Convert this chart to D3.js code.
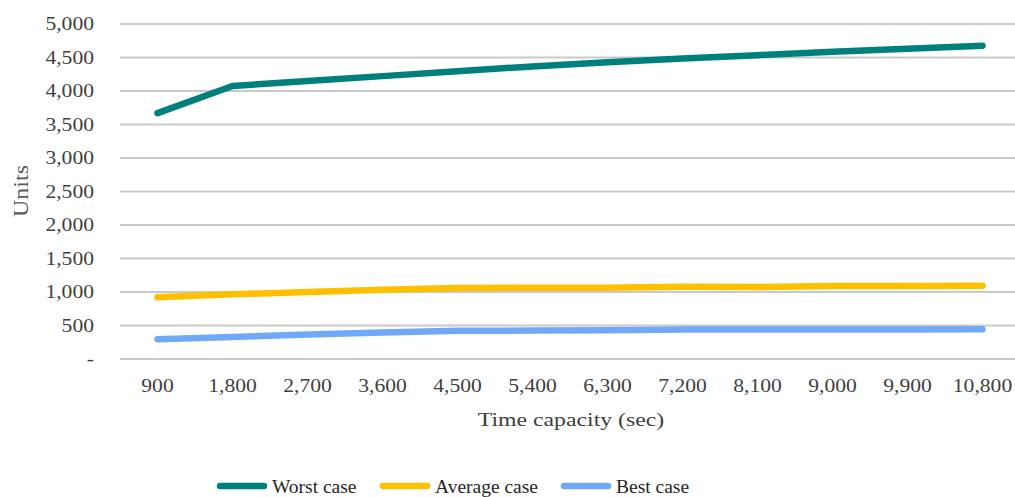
<!DOCTYPE html>
<html>
<head>
<meta charset="utf-8">
<script src="https://cdn.jsdelivr.net/npm/d3@7/dist/d3.min.js"></script>
<style>
  html, body { margin: 0; padding: 0; background: #fff; }
  svg { display: block; }
  text { font-family: "Liberation Serif", "Times New Roman", serif; }
</style>
</head>
<body>
<svg id="chart" width="1015" height="497"></svg>
<script>
// Time capacity categories (seconds)
const categories = ["900", "1,800", "2,700", "3,600", "4,500", "5,400", "6,300", "7,200", "8,100", "9,000", "9,900", "10,800"];

// Units per scenario
const worstCase   = [3670, 4075, 4150, 4222, 4295, 4367, 4430, 4485, 4535, 4585, 4630, 4676];
const averageCase = [920, 965, 1000, 1035, 1060, 1065, 1065, 1080, 1075, 1090, 1090, 1095];
const bestCase    = [295, 330, 365, 395, 420, 425, 430, 440, 440, 440, 442, 445];

const yTicks = [0, 500, 1000, 1500, 2000, 2500, 3000, 3500, 4000, 4500, 5000];
const seriesNames = ["Worst case", "Average case", "Best case"];
const seriesColors = ["#00807c", "#ffc000", "#70a9f8"];

const series = [worstCase, averageCase, bestCase].map((values, i) => ({
  name: seriesNames[i], color: seriesColors[i], values
}));

const svg = d3.select("#chart");
const STRETCH = 1.2; // horizontal text widening for axis labels

const x = d3.scaleBand().domain(categories).range([120, 1020]);
const y = d3.scaleLinear().domain([0, 5000]).range([359, 24]);
const cx = c => x(c) + x.bandwidth() / 2;

// Horizontal gridlines
svg.append("g")
  .selectAll("line")
  .data(yTicks)
  .join("line")
  .attr("x1", 120).attr("x2", 1020)
  .attr("y1", d => y(d)).attr("y2", d => y(d))
  .attr("stroke", "#c9c9c9")
  .attr("stroke-width", 2);

// Y axis tick labels (zero drawn as a dash)
const fmt = d3.format(",");
const yAxis = d3.axisLeft(y).tickValues(yTicks).tickSize(0).tickPadding(0)
  .tickFormat(d => d === 0 ? "-" : fmt(d));
const yg = svg.append("g").attr("transform", "translate(94,0)").call(yAxis);
yg.select(".domain").remove();
yg.selectAll("text")
  .attr("font-family", "Liberation Serif")
  .attr("font-size", 18)
  .attr("fill", "#404040")
  .attr("dy", "0.33em")
  .attr("x", 0)
  .attr("transform", `scale(${STRETCH},1)`);

// X axis tick labels
const xAxis = d3.axisBottom(x).tickSize(0).tickPadding(0);
const xg = svg.append("g").attr("transform", "translate(0,392)").call(xAxis);
xg.select(".domain").remove();
xg.selectAll("text")
  .attr("font-family", "Liberation Serif")
  .attr("font-size", 18)
  .attr("fill", "#404040")
  .attr("y", 0).attr("dy", 0)
  .attr("transform", `scale(${STRETCH},1)`);

// Axis titles
svg.append("text")
  .attr("transform", "translate(571,426) scale(1.32,1)")
  .attr("text-anchor", "middle")
  .attr("font-size", 18)
  .attr("fill", "#404040")
  .text("Time capacity (sec)");

svg.append("text")
  .attr("transform", `translate(28,191) rotate(-90) scale(${STRETCH},1)`)
  .attr("text-anchor", "middle")
  .attr("font-size", 20)
  .attr("fill", "#595959")
  .text("Units");

// Series lines
const line = d3.line()
  .x((d, i) => cx(categories[i]))
  .y(d => y(d));

svg.append("g")
  .selectAll("path")
  .data(series.slice().reverse())
  .join("path")
  .attr("d", d => line(d.values))
  .attr("fill", "none")
  .attr("stroke", d => d.color)
  .attr("stroke-width", 6.5)
  .attr("stroke-linecap", "round")
  .attr("stroke-linejoin", "round");

// Legend
const legendX = [220, 383, 564];
const lg = svg.append("g").selectAll("g")
  .data(series)
  .join("g")
  .attr("transform", (d, i) => `translate(${legendX[i]},486)`);
lg.append("line")
  .attr("x1", 0).attr("x2", 44)
  .attr("y1", 0).attr("y2", 0)
  .attr("stroke", d => d.color)
  .attr("stroke-width", 6.5)
  .attr("stroke-linecap", "round");
lg.append("text")
  .attr("x", 52).attr("y", 6.5)
  .attr("font-size", 19.5)
  .attr("fill", "#262626")
  .text(d => d.name);
</script>
</body>
</html>
